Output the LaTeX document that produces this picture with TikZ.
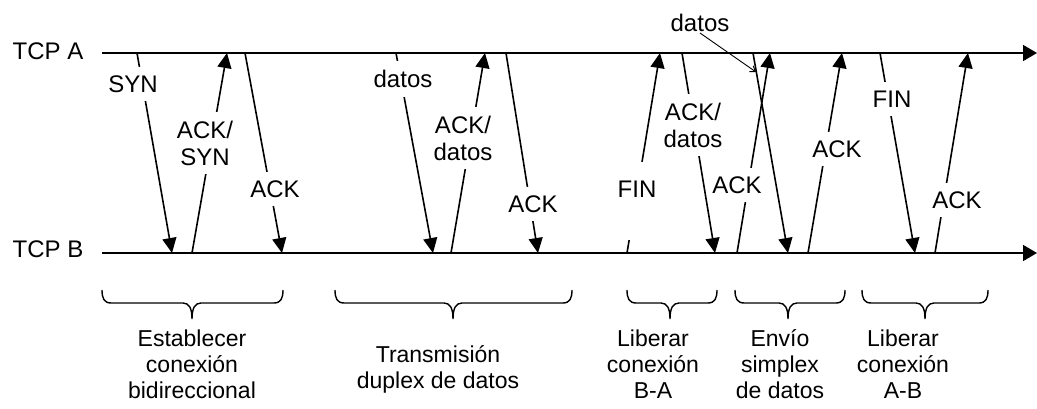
\documentclass[tikz,border=0pt]{standalone}
\usepackage{fontspec}
\setmainfont{Liberation Sans}
\usetikzlibrary{arrows.meta}

\tikzset{
  eje/.style={line width=1.7pt,-{Triangle[length=14pt,width=16pt]}},
  msg/.style={line width=1.6pt,-{Triangle[length=15pt,width=14pt]}},
  puntero/.style={line width=0.9pt,-{Straight Barb[length=5pt,width=7pt]}},
  lbl/.style={fill=white,inner xsep=1pt,inner ysep=9pt,align=center,font=\fontsize{24}{27}\selectfont},
  host/.style={font=\fontsize{24}{27}\selectfont},
  fase/.style={anchor=north,align=center,font=\fontsize{23}{26}\selectfont},
  llavelinea/.style={line width=1.4pt}
}

% llave: extremo izquierdo, punta, extremo derecho
\newcommand{\llave}[3]{%
  \draw[llavelinea] (#1,290) .. controls (#1,298) and (#1+2,303) .. (#1+9,303)
    -- (#2-9,303) .. controls (#2-3,303) and (#2,308) .. (#2,319)
    .. controls (#2,308) and (#2+3,303) .. (#2+9,303)
    -- (#3-9,303) .. controls (#3-2,303) and (#3,298) .. (#3,290);}

\begin{document}
\begin{tikzpicture}[x=1pt,y=-1pt]
\useasboundingbox (0,0) rectangle (1037,409);
\coordinate (a0) at (102,53);
\coordinate (afin) at (1037,53);
\coordinate (b0) at (102,253);
\coordinate (bfin) at (1037,253);
\draw[eje] (a0) -- (afin);
\draw[eje] (b0) -- (bfin);
\node[host] (tcpa) at (48,51) {TCP A};
\node[host] (tcpb) at (48,249) {TCP B};

\coordinate (a1) at (137,53);
\coordinate (b1) at (172,253);
\draw[msg] (a1) -- (b1);
\node[lbl] (syn) at (133,84) {SYN};
\coordinate (b2) at (192,253);
\coordinate (a2) at (227,53);
\draw[msg] (b2) -- (a2);
\node[lbl] (acksyn) at (205,143) {ACK/\\SYN};
\coordinate (a3) at (245,53);
\coordinate (b3) at (282,253);
\draw[msg] (a3) -- (b3);
\node[lbl] (ack1) at (275,189) {ACK};

\coordinate (a4) at (396,53);
\coordinate (b4) at (433,253);
\draw[msg] (a4) -- (b4);
\node[lbl] (datos1) at (403,79) {datos};
\coordinate (b5) at (451,253);
\coordinate (a5) at (485,53);
\draw[msg] (b5) -- (a5);
\node[lbl] (ackdatos1) at (463,138) {ACK/\\datos};
\coordinate (a6) at (506,53);
\coordinate (b6) at (538,253);
\draw[msg] (a6) -- (b6);
\node[lbl] (ack2) at (533,204) {ACK};

\coordinate (b7) at (627,253);
\coordinate (a7) at (660,53);
\draw[msg] (b7) -- (a7);
\node[lbl,text height=27pt,text depth=33pt] (fin1) at (637,201) {FIN};
\coordinate (a8) at (682,53);
\coordinate (b8) at (715,253);
\draw[msg] (a8) -- (b8);
\node[lbl] (ackdatos2) at (693,125) {ACK/\\datos};

\coordinate (a9) at (753,53);
\coordinate (b9) at (788,253);
\coordinate (p9) at (756,72);
\coordinate (b10) at (737,253);
\coordinate (a10) at (770,53);
\draw[msg] (b10) -- (a10);
\node[lbl] (ack3) at (737,185) {ACK};
\draw[msg] (a9) -- (b9);
\node[inner sep=1pt,font=\fontsize{24}{27}\selectfont] (datos2) at (700,23) {datos};
\draw[puntero] (datos2.south) -- (p9);
\coordinate (b11) at (808,253);
\coordinate (a11) at (842,53);
\draw[msg] (b11) -- (a11);
\node[lbl] (ack4) at (837,149) {ACK};

\coordinate (a12) at (880,53);
\coordinate (b12) at (915,253);
\draw[msg] (a12) -- (b12);
\node[lbl] (fin2) at (892,99) {FIN};
\coordinate (b13) at (935,253);
\coordinate (a13) at (968,53);
\draw[msg] (b13) -- (a13);
\node[lbl] (ack5) at (957,200) {ACK};

\llave{102}{192}{283}
\llave{335}{453}{572}
\llave{627}{670}{717}
\llave{735}{788}{845}
\llave{862}{925}{988}
\node[fase] (fase1) at (192,326) {Establecer\\conexión\\bidireccional};
\node[fase] (fase2) at (438,342) {Transmisión\\duplex de datos};
\node[fase] (fase3) at (653,326) {Liberar\\conexión\\B-A};
\node[fase] (fase4) at (780,326) {Envío\\simplex\\de datos};
\node[fase] (fase5) at (903,326) {Liberar\\conexión\\A-B};
\end{tikzpicture}
\end{document}
